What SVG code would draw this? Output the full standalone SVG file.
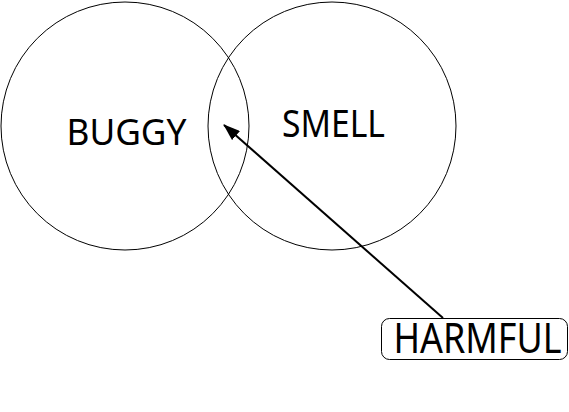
<svg xmlns="http://www.w3.org/2000/svg" width="569" height="412" viewBox="0 0 569 412">
<style>
.c{fill:none;stroke:#000;stroke-width:1}
.t{font-family:"Noto Sans","Open Sans",sans-serif;font-size:36px;fill:#000;text-anchor:middle}
</style>
<defs>
<marker id="ah" markerWidth="17" markerHeight="12" refX="16" refY="6" orient="auto" markerUnits="userSpaceOnUse">
<path d="M0,0 L17,6 L0,12 Z" fill="#000"/>
</marker>
</defs>
<rect width="569" height="412" fill="#fff"/>
<g id="buggy">
<circle class="c" cx="125" cy="126" r="124"/>
<text class="t" x="126.5" y="144.5" textLength="120" lengthAdjust="spacingAndGlyphs">BUGGY</text>
</g>
<g id="smell">
<circle class="c" cx="332" cy="126" r="124"/>
<text class="t" x="333.5" y="137" style="font-size:38.5px" textLength="103" lengthAdjust="spacingAndGlyphs">SMELL</text>
</g>
<g id="harmful">
<rect class="c" x="381.5" y="318.5" width="186" height="41" rx="8"/>
<text class="t" x="477.5" y="352.5" style="font-size:41px" textLength="168" lengthAdjust="spacingAndGlyphs">HARMFUL</text>
</g>
<g id="connectors">
<line x1="443" y1="318" x2="224" y2="125" stroke="#000" stroke-width="2" marker-end="url(#ah)"/>
</g>
</svg>
